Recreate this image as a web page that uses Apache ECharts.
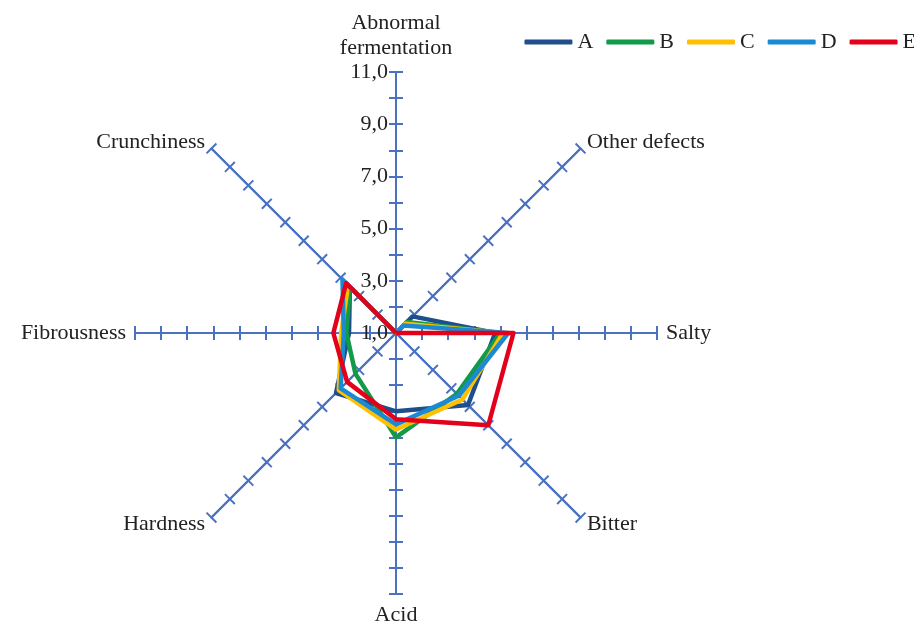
<!DOCTYPE html>
<html>
<head>
<meta charset="utf-8">
<script src="https://cdn.jsdelivr.net/npm/echarts@6/dist/echarts.min.js"></script>
<style>
  html, body { margin: 0; padding: 0; background: #fff; }
  #chart { width: 914px; height: 630px; }
</style>
</head>
<body>
<div id="chart"></div>
<script>
"use strict";

// axes, clockwise from the top
const categories = [
  "Abnormal\nfermentation",
  "Other defects",
  "Salty",
  "Bitter",
  "Acid",
  "Hardness",
  "Fibrousness",
  "Crunchiness",
];
const seriesNames = ["A", "B", "C", "D", "E"];
const valuesA = [1, 1.9, 4.8, 4.9, 4.0, 4.25, 2.8, 3.5];
const valuesB = [1, 1.6, 5.0, 4.3, 5.0, 3.2, 2.9, 3.5];
const valuesC = [1, 1.5, 5.1, 4.6, 4.7, 4.1, 3.1, 3.6];
const valuesD = [1, 1.4, 5.3, 4.4, 4.5, 4.0, 3.0, 3.9];
const valuesE = [1, 1.0, 5.5, 6.0, 4.3, 3.65, 3.4, 3.7];
const axisMin = 1;
const axisMax = 11;

const colorList = ["#1F4E8C", "#119A48", "#FFC000", "#1B8AD3", "#E3001B"];
const axisColor = "#4A72C0";
const font = "Liberation Serif";

// ECharts puts radar indicators counter-clockwise, so flip to clockwise
const order = [0, 7, 6, 5, 4, 3, 2, 1];
const toRadar = (arr) => order.map((i) => arr[i]);
const allValues = [valuesA, valuesB, valuesC, valuesD, valuesE];

// only the top axis carries labels: 1,0 3,0 ... 11,0
const labelFmt = (v) =>
  (Math.round(v) - axisMin) % 2 === 0 ? v.toFixed(1).replace(".", ",") : "";

const indicator = toRadar(categories).map((name, i) => ({
  name,
  min: axisMin,
  max: axisMax,
  axisLabel: {
    show: i === 0,
    formatter: labelFmt,
    color: "#222",
    fontFamily: font,
    fontSize: 22,
    margin: 8,
  },
}));

const baseRadar = {
  center: [396, 333],
  radius: 261,
  startAngle: 90,
  splitNumber: axisMax - axisMin,
  shape: "polygon",
  splitLine: { show: false },
  splitArea: { show: false },
  axisLine: { show: true, lineStyle: { color: axisColor, width: 2 } },
};

const chart = echarts.init(document.getElementById("chart"));
chart.setOption({
  animation: false,
  color: colorList,
  legend: {
    data: seriesNames,
    right: -7,
    top: 26,
    icon: "roundRect",
    itemWidth: 48,
    itemHeight: 5,
    itemGap: 13,
    textStyle: { fontFamily: font, fontSize: 22, color: "#222" },
  },
  radar: [
    {
      // second copy only for the other half of the cross ticks
      ...baseRadar,
      indicator: indicator.map((d) => ({
        name: d.name,
        min: d.min,
        max: d.max,
      })),
      axisName: { show: false },
      axisLabel: { show: false },
      axisTick: {
        show: true,
        length: -7,
        lineStyle: { color: axisColor, width: 2 },
      },
    },
    {
      ...baseRadar,
      indicator,
      nameGap: 9,
      axisName: {
        color: "#222",
        fontFamily: font,
        fontSize: 22,
        lineHeight: 25,
      },
      axisTick: {
        show: true,
        length: 7,
        lineStyle: { color: axisColor, width: 2 },
      },
    },
  ],
  series: [
    {
      type: "radar",
      radarIndex: 1,
      symbol: "none",
      lineStyle: { width: 4.5 },
      data: seriesNames.map((name, i) => ({
        name,
        value: toRadar(allValues[i]),
        lineStyle: { width: 4.5, color: colorList[i] },
        itemStyle: { color: colorList[i] },
      })),
    },
  ],
});
</script>
</body>
</html>
